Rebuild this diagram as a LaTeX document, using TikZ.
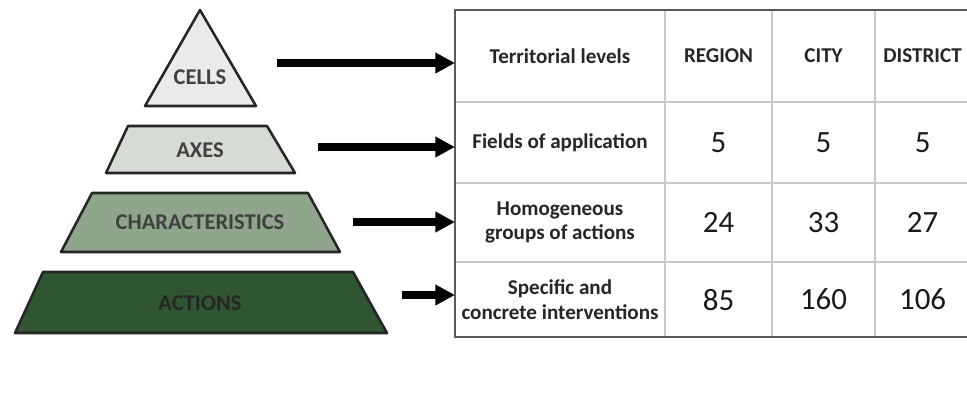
\documentclass[tikz,border=0pt]{standalone}
\usepackage{fontspec}
\setmainfont{Carlito}
\usepackage{xcolor}
\usepackage{tikz}
\usetikzlibrary{arrows.meta,positioning}

\definecolor{tierA}{HTML}{E9EBE8}
\definecolor{tierB}{HTML}{D6DCD4}
\definecolor{tierC}{HTML}{8FA68C}
\definecolor{tierD}{HTML}{2F5532}
\definecolor{gridline}{HTML}{C9C9C9}
\definecolor{frame}{HTML}{5A5A5A}

\begin{document}
\begin{tikzpicture}[
  x=0.025cm, y=-0.025cm,
  node distance=0pt,
  layer/.style={draw=black!85, line width=1.8pt, line join=round},
  tierlbl/.style={font=\fontsize{16}{18}\selectfont\bfseries, text=black!75},
  cell/.style={draw=gridline, line width=1pt, inner sep=0pt, outer sep=0pt, align=center,
    font=\fontsize{15}{17.5}\selectfont\bfseries, text=black!85},
  num/.style={cell, font=\fontsize{22}{24}\selectfont, text=black!90},
  cA/.style={minimum width=5.25cm},
  cB/.style={minimum width=2.675cm},
  cC/.style={minimum width=2.575cm},
  cD/.style={minimum width=2.375cm},
  rA/.style={minimum height=2.3cm},
  rB/.style={minimum height=2.025cm},
  rC/.style={minimum height=1.975cm},
  rD/.style={minimum height=1.875cm},
  arrow/.style={-{Triangle[length=14pt,width=14pt]}, line width=5.6pt}
]
\useasboundingbox (0,0) rectangle (967,405);

% pyramid
\draw[layer, fill=tierA] (200,10) -- (256,106) -- (145,106) -- cycle;
\node[tierlbl] (cells) at (200,77) {CELLS};
\draw[layer, fill=tierB] (128,126) -- (267,126) -- (295,173) -- (106,173) -- cycle;
\node[tierlbl] (axes) at (200,150) {AXES};
\draw[layer, fill=tierC] (92,193) -- (308,193) -- (340,252) -- (61,252) -- cycle;
\node[tierlbl] (chars) at (200,222) {CHARACTERISTICS};
\draw[layer, fill=tierD] (43,272) -- (353,272) -- (387,333) -- (15,333) -- cycle;
\node[tierlbl, text=black!85] (actions) at (200,303) {ACTIONS};

% table
\node[cell, cA, rA] (lvl-head) at (560,56) {Territorial levels};
\node[cell, cB, rA, right=of lvl-head] (lvl-region) {REGION};
\node[cell, cC, rA, right=of lvl-region] (lvl-city) {CITY};
\node[cell, cD, rA, right=of lvl-city] (lvl-district) {DISTRICT};

\node[cell, cA, rB, below=of lvl-head] (fld-head) {Fields of application};
\node[num, cB, rB, right=of fld-head] (fld-region) {5};
\node[num, cC, rB, right=of fld-region] (fld-city) {5};
\node[num, cD, rB, right=of fld-city] (fld-district) {5};

\node[cell, cA, rC, below=of fld-head] (grp-head) {Homogeneous\\groups of actions};
\node[num, cB, rC, right=of grp-head] (grp-region) {24};
\node[num, cC, rC, right=of grp-region] (grp-city) {33};
\node[num, cD, rC, right=of grp-city] (grp-district) {27};

\node[cell, cA, rD, below=of grp-head] (act-head) {Specific and\\concrete interventions};
\node[num, cB, rD, right=of act-head] (act-region) {85};
\node[num, cC, rD, right=of act-region] (act-city) {160};
\node[num, cD, rD, right=of act-city] (act-district) {106};

\draw[frame, line width=1.5pt] (lvl-head.north west) rectangle (act-district.south east);

% arrows
\coordinate (from-cells) at (277,63);
\coordinate (from-axes) at (318,147);
\coordinate (from-chars) at (353,222);
\coordinate (from-actions) at (402,295);
\draw[arrow] (from-cells) -- (from-cells -| lvl-head.west);
\draw[arrow] (from-axes) -- (from-axes -| fld-head.west);
\draw[arrow] (from-chars) -- (from-chars -| grp-head.west);
\draw[arrow] (from-actions) -- (from-actions -| act-head.west);
\end{tikzpicture}
\end{document}
